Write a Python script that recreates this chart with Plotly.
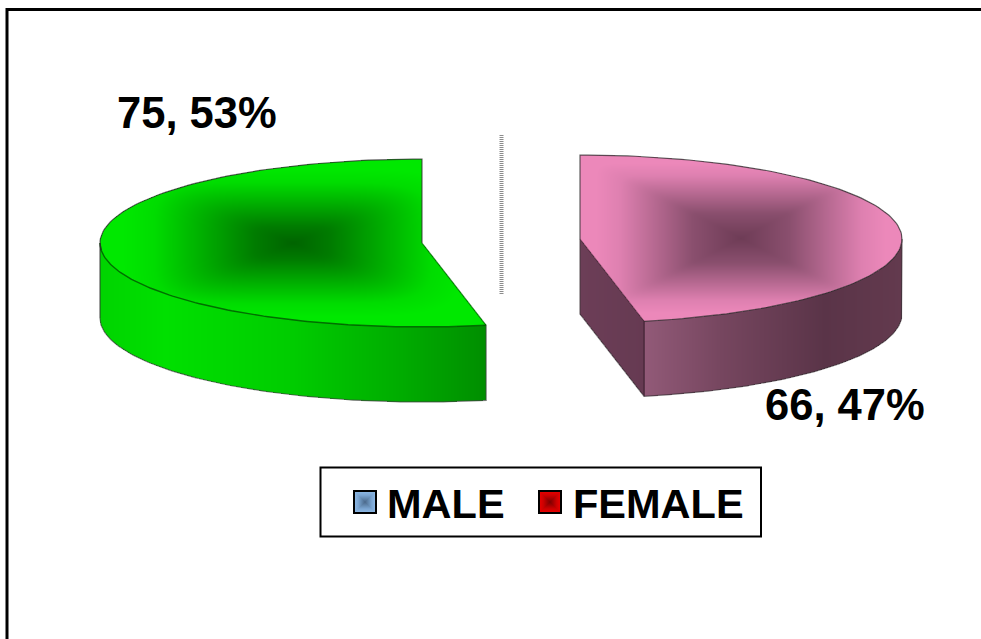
import numpy as np
import plotly.graph_objects as go

# Chart data
categories = ["MALE", "FEMALE"]
values = [75, 66]
percent_labels = [f"{v}, {round(100 * v / sum(values))}%" for v in values]

# Projection of each exploded slice (pixel-based plot coordinates)
RX, RY, DEPTH = 322.0, 84.0, 75.0
LEFT_APEX = (422.0, 243.0)
RIGHT_APEX = (580.0, 239.0)
W, H = 981, 639
FONT = "Liberation Sans"

GREEN_TOP = [[0, "#006400"], [0.2, "#007c00"], [0.48, "#00b000"], [0.72, "#00dc00"], [0.88, "#00e800"], [1, "#00e800"]]
GREEN_WALL = [[0, "#00d400"], [0.17, "#00e000"], [0.5, "#00cc00"], [0.78, "#00ac00"], [1, "#008e00"]]
PINK_TOP = [[0, "#6e3c56"], [0.3, "#8a4f6e"], [0.75, "#de80b0"], [0.9, "#ec88ba"], [1, "#ec88ba"]]
PINK_WALL = [[0, "#925a78"], [0.3, "#76465f"], [0.7, "#5a3448"], [1, "#633a4e"]]
PINK_CUT = [[0, "#6c3e57"], [1, "#663a52"]]
BLUE_KEY = [[0, "#4c6a8c"], [0.6, "#7aa4d0"], [1, "#90bce8"]]
RED_KEY = [[0, "#7c0000"], [0.6, "#cc0000"], [1, "#ee0000"]]

fig = go.Figure()


def arc(apex, a0, a1, dy=0.0, n=120):
    """Points along the projected rim, angles measured clockwise from 12 o'clock."""
    t = np.radians(np.linspace(a0, a1, n))
    return apex[0] + RX * np.sin(t), apex[1] - RY * np.cos(t) + dy


def add_cells(x0, x1, y0, y1, z_func, scale):
    """Paint a one-pixel heatmap over a box; z_func returns NaN outside the face."""
    xs = np.arange(int(x0), int(x1) + 1) + 0.5
    ys = np.arange(int(y0), int(y1) + 1) + 0.5
    gx, gy = np.meshgrid(xs, ys)
    fig.add_trace(go.Heatmap(x=xs.tolist(), y=ys.tolist(), z=np.round(z_func(gx, gy), 3).tolist(),
                             colorscale=scale, zmin=0, zmax=1, showscale=False,
                             hoverinfo="skip", zsmooth=False))


def top_face(apex, a0, a1, scale, softness):
    """Elliptical wedge shaded with a rounded-rectangle gradient about its bounding box."""
    xa, ya = arc(apex, a0, a1, n=720)
    xmin, xmax = min(xa.min(), apex[0]), max(xa.max(), apex[0])
    ymin, ymax = min(ya.min(), apex[1]), max(ya.max(), apex[1])
    mx, my = (xmin + xmax) / 2, (ymin + ymax) / 2
    lo, hi = min(a0, a1), max(a0, a1)

    def z(gx, gy):
        u, v = (gx - apex[0]) / RX, (gy - apex[1]) / RY
        ang = np.degrees(np.arctan2(u, -v))
        if lo < 0:
            ang = np.where(ang > 0, ang - 360, ang)
        inside = (u ** 2 + v ** 2 <= 1) & (ang >= lo) & (ang <= hi)
        a = np.abs(gx - mx) / ((xmax - xmin) / 2)
        b = np.abs(gy - my) / ((ymax - ymin) / 2)
        r = (a ** softness + b ** softness) ** (1 / softness)
        return np.where(inside, np.clip(r, 0, 1), np.nan)

    add_cells(xmin, xmax, ymin, ymax, z, scale)


def outer_wall(apex, x0, x1, scale):
    """Front-facing rim wall with a horizontal gradient."""
    def z(gx, gy):
        u = np.clip((gx - apex[0]) / RX, -1, 1)
        rim = apex[1] + RY * np.sqrt(1 - u ** 2)
        inside = (gy >= rim) & (gy <= rim + DEPTH) & (gx >= x0) & (gx <= x1)
        return np.where(inside, (gx - x0) / (x1 - x0), np.nan)

    add_cells(x0, x1, apex[1], apex[1] + RY + DEPTH + 1, z, scale)


def outline(xs, ys, color="rgba(45,45,45,0.75)", width=1.2):
    fig.add_trace(go.Scatter(x=list(xs), y=list(ys), mode="lines", hoverinfo="skip",
                             line=dict(color=color, width=width), showlegend=False))


sweeps = [360 * v / sum(values) for v in values]

# Left slice: runs counter-clockwise from 12 o'clock
green_sweep = -sweeps[0]
tip_gx, tip_gy = arc(LEFT_APEX, green_sweep, green_sweep, n=1)
outer_wall(LEFT_APEX, LEFT_APEX[0] - RX, tip_gx[0], GREEN_WALL)
top_face(LEFT_APEX, green_sweep, 0, GREEN_TOP, 5)

xa, ya = arc(LEFT_APEX, 0, green_sweep)
outline(np.r_[LEFT_APEX[0], xa[:60]], np.r_[LEFT_APEX[1], ya[:60]])
outline(np.r_[xa[-1], LEFT_APEX[0]], np.r_[ya[-1], LEFT_APEX[1]], "rgba(0,110,0,0.8)")
fx, fy = arc(LEFT_APEX, -90, green_sweep)
outline(fx, fy, "rgba(0,90,0,0.85)", 1.4)
outline(np.r_[xa[58:60], fx[0], fx[0]], np.r_[ya[58:60], fy[0], fy[0] + DEPTH])
outline(np.r_[fx, fx[-1]], np.r_[fy + DEPTH, fy[-1]], "rgba(60,70,60,0.7)")

# Right slice: runs clockwise from 12 o'clock
pink_sweep = sweeps[1]
tip_px, tip_py = arc(RIGHT_APEX, pink_sweep, pink_sweep, n=1)


def cut_face(gx, gy):
    slope = (tip_py[0] - RIGHT_APEX[1]) / (tip_px[0] - RIGHT_APEX[0])
    edge = RIGHT_APEX[1] + slope * (gx - RIGHT_APEX[0])
    inside = (gx >= RIGHT_APEX[0]) & (gx <= tip_px[0]) & (gy >= edge) & (gy <= edge + DEPTH)
    return np.where(inside, (gx - RIGHT_APEX[0]) / (tip_px[0] - RIGHT_APEX[0]), np.nan)


add_cells(RIGHT_APEX[0], tip_px[0], RIGHT_APEX[1], tip_py[0] + DEPTH + 1, cut_face, PINK_CUT)
outer_wall(RIGHT_APEX, tip_px[0], RIGHT_APEX[0] + RX, PINK_WALL)
top_face(RIGHT_APEX, 0, pink_sweep, PINK_TOP, 20)

xa, ya = arc(RIGHT_APEX, 0, pink_sweep)
outline(np.r_[RIGHT_APEX[0], xa], np.r_[RIGHT_APEX[1], ya])
outline([RIGHT_APEX[0], tip_px[0]], [RIGHT_APEX[1], tip_py[0]], "rgba(70,40,55,0.6)")
fx, fy = arc(RIGHT_APEX, 90, pink_sweep)
outline(np.r_[fx[0], fx, fx[-1], RIGHT_APEX[0], RIGHT_APEX[0]],
        np.r_[fy[0], fy + DEPTH, fy[-1] + DEPTH, RIGHT_APEX[1] + DEPTH, RIGHT_APEX[1]],
        "rgba(60,50,55,0.7)")
outline([tip_px[0], tip_px[0]], [tip_py[0], tip_py[0] + DEPTH], "rgba(50,25,40,0.8)")


def legend_key(x0, x1, y0, y1, scale):
    mx, my = (x0 + x1) / 2, (y0 + y1) / 2

    def z(gx, gy):
        return np.maximum(np.abs(gx - mx) / ((x1 - x0) / 2), np.abs(gy - my) / ((y1 - y0) / 2)).clip(0, 1)

    add_cells(x0, x1 - 1, y0, y1 - 1, z, scale)
    return dict(type="rect", x0=x0, x1=x1, y0=y0, y1=y1, line=dict(color="#000", width=2))


key_shapes = [legend_key(354, 376, 491, 513, BLUE_KEY), legend_key(539, 561, 491, 513, RED_KEY)]

shapes = [
    # Chart frame, open at the page edges
    dict(type="line", x0=7, x1=981, y0=9.5, y1=9.5, line=dict(color="#000", width=3)),
    dict(type="line", x0=7, x1=7, y0=8, y1=639, line=dict(color="#000", width=3)),
    # Stippled divider between the slices
    dict(type="line", x0=501.5, x1=501.5, y0=135, y1=295,
         line=dict(color="#8c8c8c", width=4, dash="1px,1px")),
    # Legend box
    dict(type="rect", x0=320.5, x1=761, y0=467.5, y1=536.5, line=dict(color="#000", width=2)),
] + key_shapes


def text(x, y, s, size):
    return dict(x=x, y=y, text=s, showarrow=False, xanchor="center", yanchor="middle",
                font=dict(family=FONT, size=size, color="#000", weight=700))


annotations = [
    text(196.5, 113, percent_labels[0], 43.5),
    text(844.5, 405, percent_labels[1], 43.5),
    text(445.5, 503, categories[0], 41.5),
    text(658, 503, categories[1], 41.5),
]

fig.update_layout(
    width=W, height=H, margin=dict(l=0, r=0, t=0, b=0), showlegend=False,
    paper_bgcolor="#fff", plot_bgcolor="#fff",
    xaxis=dict(range=[0, W], visible=False, fixedrange=True),
    yaxis=dict(range=[H, 0], visible=False, fixedrange=True),
    shapes=shapes, annotations=annotations,
)

fig.write_html("out.html", config=dict(displayModeBar=False))
